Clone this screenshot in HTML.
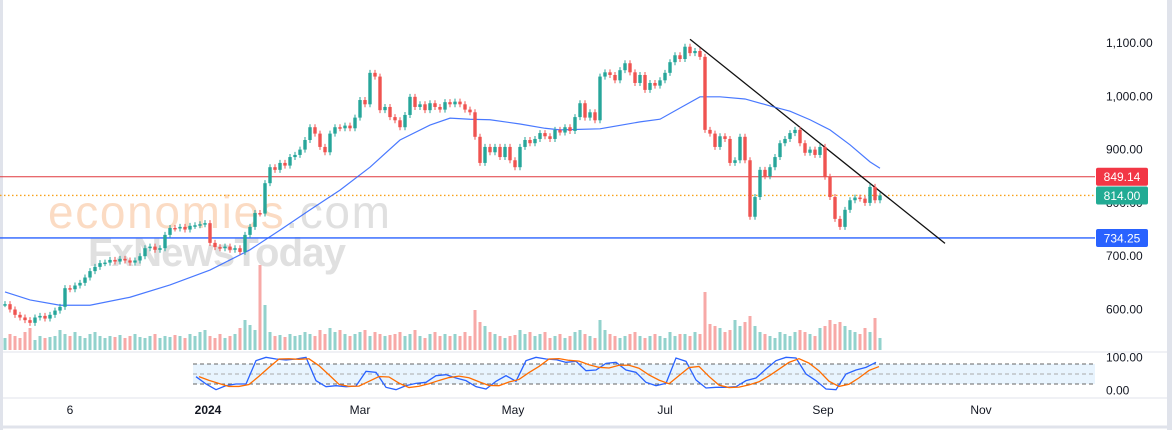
<!DOCTYPE html>
<html><head><meta charset="utf-8"><style>
body{margin:0;background:#fff;font-family:"Liberation Sans",sans-serif}
svg{display:block}
</style></head><body>
<svg id="c" width="1172" height="430" xmlns="http://www.w3.org/2000/svg">
<rect x="0" y="0" width="1172" height="430" fill="#fff"/>
<rect x="0" y="0" width="3" height="430" fill="#e0e3eb"/>
<rect x="1167" y="0" width="5" height="430" fill="#e0e3eb"/>
<line x1="0" y1="352" x2="1167" y2="352" stroke="#e0e3eb"/>
<line x1="0" y1="398" x2="1167" y2="398" stroke="#e0e3eb"/>
<line x1="0" y1="427" x2="1167" y2="427" stroke="#e0e3eb" stroke-width="3"/>
<g>
<text x="48" y="228" font-size="46" textLength="342" fill="#f7b07a" fill-opacity="0.45">economies<tspan fill="#bbb">.com</tspan></text>
<text x="88" y="266" font-size="40" font-weight="bold" textLength="258" fill="#999" fill-opacity="0.3">FxNewsToday</text>
</g>
<g id="vol"></g>
<g id="lines"></g>
<g id="ma"></g>
<g id="candles"></g>
<g id="stoch"></g>
<g id="axes"></g>
</svg>
<script>
const closes=[610,600,590,585,580,575,585,588,583,590,598,605,640,638,645,650,660,672,680,687,688,693,690,695,692,688,692,700,715,718,712,715,740,753,752,755,750,757,758,760,762,725,717,715,718,712,715,708,740,755,781,780,837,867,862,875,870,886,890,900,918,942,930,905,895,930,942,940,945,940,960,993,985,1044,1037,974,980,961,955,942,965,999,980,985,974,987,980,975,989,985,990,985,975,970,924,875,905,895,905,886,905,880,867,905,918,912,920,931,925,920,937,932,942,935,961,987,960,970,955,1037,1045,1040,1030,1049,1062,1045,1025,1040,1012,1025,1020,1030,1044,1064,1077,1070,1093,1081,1085,1074,937,930,905,925,920,875,880,924,880,774,811,862,850,867,886,912,920,931,937,912,894,900,890,905,849,811,770,755,787,805,810,808,800,830,805,814];
const volumes=[12,16,14,12,18,22,10,14,12,13,14,20,16,14,18,14,12,16,18,14,12,14,13,15,12,14,16,13,12,14,16,12,14,13,15,14,12,16,14,18,20,14,12,16,12,14,16,22,30,25,20,85,45,18,14,15,13,16,14,15,18,16,14,20,16,22,18,20,16,14,16,18,20,14,18,16,14,15,16,18,14,16,20,14,12,16,18,14,16,14,16,14,18,14,40,28,24,18,16,14,12,14,15,20,16,18,14,16,18,12,14,16,12,14,18,20,16,14,12,30,20,16,14,12,14,16,18,14,12,14,16,14,12,18,14,16,16,14,18,16,58,26,24,22,18,20,30,24,28,34,24,18,16,14,12,18,16,14,18,20,18,16,14,22,24,30,26,28,24,20,18,16,22,18,32,12];
const maIdx=[0,5,11,17,25,33,41,49,55,61,67,73,79,85,89,93,97,103,108,111,119,127,131,135,139,143,148,153,157,161,165,169,173,175];
const maVals=[633,618,608,608,623,646,674,712,749,787,824,867,918,946,959,957,956,948,940,937,939,952,957,978,999,999,995,982,972,956,937,909,877,865];
const stochK=[42,20,3,15,20,20,90,100,95,92,95,100,30,12,15,12,14,58,55,10,3,15,22,25,45,48,38,30,12,5,28,45,28,90,100,95,93,85,88,60,62,82,85,62,55,25,15,22,98,88,32,8,10,10,12,30,38,65,90,100,98,50,30,5,3,50,62,70,85];
const priceTicks=[1100,1000,900,800,700,600];
const priceTickLabels=["1,100.00","1,000.00","900.00","800.00","700.00","600.00"];
const levels=[849.14,734.25];
const lastPrice=814.00;
const timeLabels=["6","2024","Mar","May","Jul","Sep","Nov"];
const timeLabelX=[70,208,360,513,665,823,981];
const trendStart=[137,1107];
const trendEnd=[188,724];

const NS="http://www.w3.org/2000/svg";
const y=p=>43+(1100-p)*0.533;
const x=i=>5+i*5;
const yv=v=>350-v;
const ys=v=>364+(80-v)/3;
const xs=i=>196+i*10;
function mk(tag,attrs,parent){const e=document.createElementNS(NS,tag);for(const k in attrs)e.setAttribute(k,attrs[k]);parent.appendChild(e);return e;}
const G=id=>document.getElementById(id);

volumes.forEach((v,i)=>{const up=i===0||closes[i]>=closes[i-1];
const r=mk('rect',{x:x(i)-1.5,y:yv(v),width:3,height:v,fill:up?'#26a69a':'#ef5350','fill-opacity':0.5},G('vol'));

});

const l1=mk('line',{x1:0,x2:1095,y1:y(levels[0]),y2:y(levels[0]),stroke:'#e0393e','stroke-width':1},G('lines'));


const l2=mk('line',{x1:0,x2:1095,y1:y(levels[1]),y2:y(levels[1]),stroke:'#2962ff','stroke-width':1.3},G('lines'));


const l3=mk('line',{x1:0,x2:1095,y1:y(lastPrice),y2:y(lastPrice),stroke:'#f7a21b','stroke-width':1.3,'stroke-dasharray':'1.5 2.5'},G('lines'));


const tl=mk('line',{x1:x(trendStart[0]),y1:y(trendStart[1]),x2:x(trendEnd[0]),y2:y(trendEnd[1]),stroke:'#111','stroke-width':1.3},G('lines'));



const mp=mk('polyline',{points:maIdx.map((k,j)=>x(k)+','+y(maVals[j])).join(' '),fill:'none',stroke:'#2962ff','stroke-width':1.2,'stroke-opacity':0.85},G('ma'));



closes.forEach((c,i)=>{const o=i===0?c:closes[i-1];const up=c>=o;const col=up?'#26a69a':'#ef5350';
const hi=y(Math.max(o,c))-3, lo=y(Math.min(o,c))+3;
const g=mk('g',{},G('candles'));


mk('line',{x1:x(i),x2:x(i),y1:hi,y2:lo,stroke:col,'stroke-width':1},g);
const t=y(Math.max(o,c));const h=Math.max(1.5,y(Math.min(o,c))-t);
mk('rect',{x:x(i)-1.7,y:t,width:3.4,height:h,fill:col},g);});

const sp=G('stoch');
const band=mk('rect',{x:193,y:ys(80),width:902,height:ys(20)-ys(80),fill:'#2196f3','fill-opacity':0.1},sp);


[80,50,20].forEach(v=>{const l=mk('line',{x1:193,x2:1095,y1:ys(v),y2:ys(v),stroke:v===50?'#aaa':'#666','stroke-dasharray':'4 3'},sp);

});
const stochD=stochK.map((v,i)=>{const a=stochK.slice(Math.max(0,i-2),i+1);return a.reduce((s,q)=>s+q,0)/a.length;});
const kp=mk('polyline',{points:stochK.map((v,i)=>xs(i)+','+ys(v)).join(' '),fill:'none',stroke:'#2962ff','stroke-width':1.3},sp);


const dp=mk('polyline',{points:stochD.map((v,i)=>(xs(i)+3)+','+ys(v)).join(' '),fill:'none',stroke:'#ff6d00','stroke-width':1.3},sp);


[[100,'100.00'],[0,'0.00']].forEach(([v,t])=>{const e=mk('text',{x:1106,y:ys(v)+4,'font-size':12,fill:'#131722'},sp);e.textContent=t;

});

const ax=G('axes');
priceTicks.forEach((p,i)=>{const e=mk('text',{x:1106,y:y(p)+4,'font-size':12,fill:'#131722'},ax);e.textContent=priceTickLabels[i];

});
function tag(p,txt,bg,name){const g=mk('g',{},ax);


mk('rect',{x:1096,y:y(p)-9,width:52,height:18,rx:2,fill:bg},g);
const t=mk('text',{x:1122,y:y(p)+4.5,'font-size':12,fill:'#fff','text-anchor':'middle'},g);t.textContent=txt;}
tag(levels[0],levels[0].toFixed(2),'#f23645','resistance-price-tag');
tag(lastPrice,lastPrice.toFixed(2),'#22ab94','last-price-tag');
tag(levels[1],levels[1].toFixed(2),'#2962ff','support-price-tag');
timeLabels.forEach((t,i)=>{const e=mk('text',{x:timeLabelX[i],y:414,'font-size':12,fill:'#131722','text-anchor':'middle','font-weight':t==='2024'?'bold':'normal'},ax);e.textContent=t;

});
</script>
</body></html>
